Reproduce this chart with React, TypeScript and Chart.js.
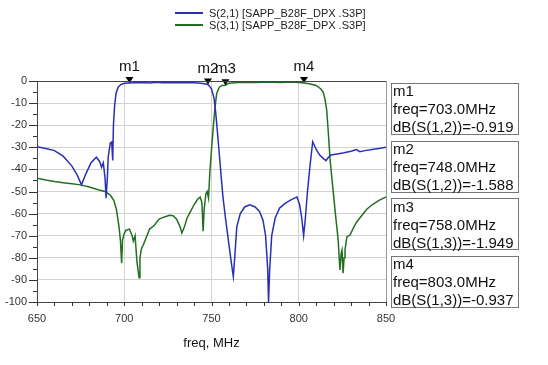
import React, { useEffect, useRef } from "react";
import { Chart, registerables } from "chart.js";

Chart.register(...registerables);

// ---------- data ----------
const seriesNames = ["S(2,1) [SAPP_B28F_DPX .S3P]", "S(3,1) [SAPP_B28F_DPX .S3P]"];
const seriesColors = ["#2a30b4", "#226f22"];

const s21Freq = [
  650, 655, 660, 665, 670, 673, 675.5, 678, 681, 684, 686, 687, 688, 689, 689.6, 690.3, 690.8, 692, 692.8, 693.4, 693.8,
  694.5, 695.3, 696.5, 698, 700, 703, 706, 710, 715, 718, 722, 728, 733, 738, 742, 745, 748, 750, 751.5, 752.5, 753.5,
  755, 756.5, 758, 760, 761.5, 762.5, 763.3, 764.5, 766.5, 769, 772, 775, 777.5, 779.5, 781, 782.2, 782.7, 783.3, 784.5,
  786.5, 789, 792, 795, 797.5, 799, 800.5, 801.7, 802.8, 803.8, 805, 806.5, 808, 810, 812, 814, 815.6, 817, 818.5, 822,
  826, 830, 833, 835, 838, 842, 846, 850,
];
const s21dB = [
  -29.8, -30.5, -31.5, -34, -38.5, -42.5, -47, -42, -37, -34.5, -36.5, -39, -37, -44, -53, -44, -34.5, -28, -27.6, -36, -20,
  -11, -5.5, -2.8, -1.6, -1.0, -0.919, -0.8, -0.7, -0.9, -0.6, -0.8, -0.7, -0.8, -0.7, -0.9, -1.1, -1.588, -3.5, -8, -15, -24,
  -38, -52, -62, -74, -83, -88.5, -80, -66, -60, -57, -56, -57, -59, -63, -70, -85, -100, -86, -70,
  -62, -57.5, -55.5, -54, -53, -52.5, -56, -62, -70, -62, -50, -38, -27.5, -31, -33.5, -35, -36, -34.5, -33.5, -33,
  -32.5, -31.8, -31, -32, -31.5, -31, -30.5, -30,
];

const s31Freq = [
  650, 655, 660, 665, 670, 675, 680, 685, 689, 692, 694, 695.5, 697, 697.8, 698.5, 699, 700, 701, 703, 704.5, 705.2, 706.2,
  707.3, 708, 708.5, 709, 709.8, 711, 712.5, 714.5, 717, 720, 723, 726, 728, 730, 732, 733, 734.5, 736, 738, 740, 742,
  743.5, 744.5, 745.2, 745.8, 746.8, 747.5, 748.3, 749, 750, 751, 752, 753, 754.5, 756, 758, 760, 765, 770, 775, 780, 785,
  790, 795, 800, 803, 806, 810, 812.5, 814, 815, 816, 817, 818, 819.5, 821, 822.6, 823.6, 824.3, 824.8, 825.4, 826, 826.5,
  827.6, 829.4, 831, 833, 836, 839, 842, 846, 850,
];
const s31dB = [
  -44, -44.8, -45.5, -46, -46.5, -47, -48, -49.2, -50, -51.6, -54, -58, -66, -72, -82.5, -72, -69, -67.5, -67, -70, -72.5, -70,
  -82, -86, -89, -80, -76, -74, -71, -67, -65.5, -62.5, -61.5, -60.8, -61, -62.5, -66, -68.8, -66, -62, -59, -56, -53.5,
  -52.5, -55, -68, -58, -51, -50, -53, -42, -31, -21, -12, -5.5, -2.8, -2, -1.949, -1.0, -0.7, -0.6, -0.7, -0.6, -0.6,
  -0.7, -0.5, -0.7, -0.937, -1.2, -2, -3.5, -5, -8, -13, -24, -36, -48, -60, -72, -85.5, -78, -76.5, -87, -80, -76.5,
  -70.5, -69.7, -67, -64, -61, -58, -56, -54, -52.5,
];

const markerNames = ["m1", "m2", "m3", "m4"];
const markerFreqs = [703.0, 748.0, 758.0, 803.0];
const markerValues = [-0.919, -1.588, -1.949, -0.937];
const markerExprs = ["dB(S(1,2))", "dB(S(1,2))", "dB(S(1,3))", "dB(S(1,3))"];

const xMin = 650;
const xMax = 850;
const yMin = -100;
const yMax = 0;
const xTitle = "freq, MHz";

const FONT = "'Liberation Sans', Arial, sans-serif";

export default function App() {
  const ref = useRef<HTMLCanvasElement | null>(null);

  useEffect(() => {
    document.body.style.margin = "0";
    const canvas = ref.current;
    if (!canvas) return;

    const framePlugin = {
      id: "frameTicks",
      afterDraw(chart: any) {
        const { ctx, chartArea } = chart;
        const xs = chart.scales.x;
        const ys = chart.scales.y;
        ctx.save();
        // top & right frame
        ctx.lineWidth = 1;
        ctx.strokeStyle = "#444";
        ctx.beginPath();
        ctx.moveTo(chartArea.left, Math.round(chartArea.top) + 0.5);
        ctx.lineTo(chartArea.right, Math.round(chartArea.top) + 0.5);
        ctx.stroke();
        ctx.strokeStyle = "#999";
        ctx.beginPath();
        ctx.moveTo(Math.round(chartArea.right) + 0.5, chartArea.top);
        ctx.lineTo(Math.round(chartArea.right) + 0.5, chartArea.bottom);
        ctx.stroke();
        // ticks
        ctx.strokeStyle = "#333";
        ctx.beginPath();
        xs.ticks.forEach((t: any) => {
          const px = Math.round(xs.getPixelForValue(t.value)) + 0.5;
          ctx.moveTo(px, chartArea.bottom);
          ctx.lineTo(px, chartArea.bottom + 4);
        });
        ys.ticks.forEach((t: any) => {
          const py = Math.round(ys.getPixelForValue(t.value)) + 0.5;
          const len = t.value % 10 === 0 ? 8 : 4;
          ctx.moveTo(chartArea.left - len, py);
          ctx.lineTo(chartArea.left, py);
        });
        ctx.stroke();

        // legend
        ctx.font = `11px ${FONT}`;
        ctx.textBaseline = "middle";
        ctx.textAlign = "left";
        seriesNames.forEach((name, i) => {
          const ly = 13 + i * 12;
          ctx.strokeStyle = seriesColors[i];
          ctx.lineWidth = 2;
          ctx.beginPath();
          ctx.moveTo(175, ly);
          ctx.lineTo(203, ly);
          ctx.stroke();
          ctx.fillStyle = "#222";
          ctx.fillText(name, 209, ly + 0.5);
        });

        // marker boxes
        markerNames.forEach((m, i) => {
          const top = 83 + i * 57.7;
          ctx.strokeStyle = "#777";
          ctx.lineWidth = 1;
          ctx.strokeRect(391.5, Math.round(top) + 0.5, 127, 51);
          ctx.fillStyle = "#111";
          ctx.font = `15px ${FONT}`;
          ctx.textBaseline = "middle";
          ctx.textAlign = "left";
          const lines = [
            m,
            `freq=${markerFreqs[i].toFixed(1)}MHz`,
            `${markerExprs[i]}=${markerValues[i].toFixed(3)}`,
          ];
          lines.forEach((l, k) => ctx.fillText(l, 393, top + 9 + k * 18));
        });
        ctx.restore();
      },
      afterDatasetsDraw(chart: any) {
        const { ctx } = chart;
        const xs = chart.scales.x;
        const ys = chart.scales.y;
        ctx.save();
        markerNames.forEach((m, i) => {
          const px = xs.getPixelForValue(markerFreqs[i]);
          const py = ys.getPixelForValue(markerValues[i]);
          ctx.fillStyle = "#000";
          ctx.beginPath();
          ctx.moveTo(px, py);
          ctx.lineTo(px - 4, py - 6);
          ctx.lineTo(px + 4, py - 6);
          ctx.closePath();
          ctx.fill();
          ctx.font = `15px ${FONT}`;
          ctx.textAlign = "center";
          ctx.textBaseline = "middle";
          ctx.fillStyle = "#111";
          ctx.fillText(m, px, py - 16);
        });
        ctx.restore();
      },
    };

    const chart = new Chart(canvas, {
      type: "line",
      data: {
        datasets: [
          {
            label: seriesNames[0],
            data: s21Freq.map((f, i) => ({ x: f, y: s21dB[i] })),
            borderColor: seriesColors[0],
            borderWidth: 1.5,
            pointRadius: 0,
            tension: 0,
            fill: false,
          },
          {
            label: seriesNames[1],
            data: s31Freq.map((f, i) => ({ x: f, y: s31dB[i] })),
            borderColor: seriesColors[1],
            borderWidth: 1.5,
            pointRadius: 0,
            tension: 0,
            fill: false,
          },
        ],
      },
      options: {
        responsive: false,
        animation: false,
        devicePixelRatio: 1,
        layout: { padding: { top: 81, right: 162, left: 0, bottom: 0 } },
        plugins: { legend: { display: false }, tooltip: { enabled: false } },
        scales: {
          x: {
            type: "linear",
            min: xMin,
            max: xMax,
            afterFit: (s: any) => {
              s.height = 63;
            },
            ticks: {
              stepSize: 10,
              maxTicksLimit: 100,
              autoSkip: false,
              maxRotation: 0,
              padding: 10,
              color: "#333",
              font: { family: FONT, size: 11 },
              callback: (v: any) => (Number(v) % 50 === 0 ? String(v) : ""),
            },
            grid: {
              drawTicks: false,
              color: (c: any) =>
                c.tick && c.tick.value % 50 === 0 && c.tick.value !== xMin && c.tick.value !== xMax
                  ? "#d2d2d2"
                  : "rgba(0,0,0,0)",
            },
            border: { display: true, color: "#444" },
            title: {
              display: true,
              text: xTitle,
              color: "#111",
              font: { family: FONT, size: 13 },
              padding: { top: 0, bottom: 14 },
            },
          },
          y: {
            type: "linear",
            min: yMin,
            max: yMax,
            afterFit: (s: any) => {
              s.width = 37;
            },
            ticks: {
              stepSize: 5,
              maxTicksLimit: 100,
              autoSkip: false,
              padding: 10,
              color: "#333",
              font: { family: FONT, size: 11 },
              callback: (v: any) => (Number(v) % 10 === 0 ? String(v) : ""),
            },
            grid: {
              drawTicks: false,
              color: (c: any) =>
                c.tick && c.tick.value % 10 === 0 && c.tick.value !== yMin && c.tick.value !== yMax
                  ? "#d2d2d2"
                  : "rgba(0,0,0,0)",
            },
            border: { display: true, color: "#444" },
          },
        },
      },
      plugins: [framePlugin],
    });

    return () => chart.destroy();
  }, []);

  return (
    <div style={{ width: 548, height: 365, background: "#fff" }}>
      <canvas ref={ref} width={548} height={365} style={{ display: "block" }} />
    </div>
  );
}
